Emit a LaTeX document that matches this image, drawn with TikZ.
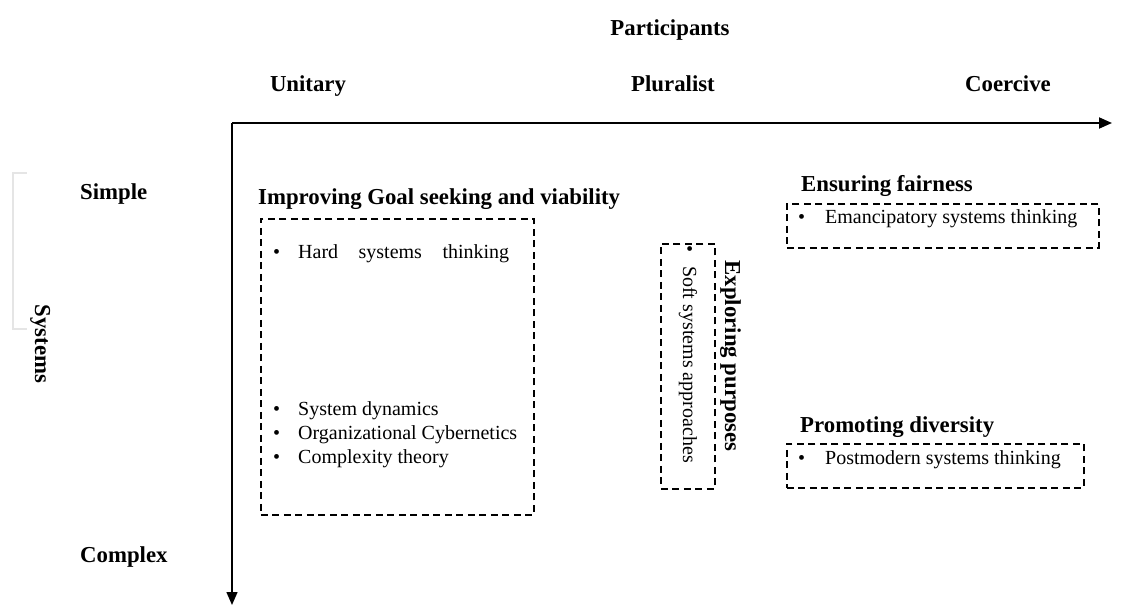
\documentclass[tikz,border=0pt]{standalone}
\usepackage{fontspec}
\setmainfont{Liberation Serif}
\usetikzlibrary{arrows.meta}
\begin{document}
\begin{tikzpicture}[x=1pt,y=-1pt,
  lbl/.style={font=\fontsize{22.8}{26}\selectfont\bfseries, inner sep=0pt},
  itm/.style={font=\fontsize{20}{24}\selectfont, inner sep=0pt},
  dbox/.style={draw, dash pattern=on 7pt off 4.5pt, line width=1.8pt, inner sep=0pt, anchor=north west},
  axis/.style={line width=1.8pt, -{Triangle[length=13pt,width=11pt]}},
  faint/.style={draw=black!10, line width=1.5pt}]
\useasboundingbox (0,0) rectangle (1133,605);
% faint bracket
\coordinate (fa) at (27,173); \coordinate (fb) at (13,173);
\coordinate (fc) at (13,329); \coordinate (fd) at (27,329);
\draw[faint] (fa) -- (fb) -- (fc) -- (fd);
% header labels
\node[lbl, anchor=base] (part) at (670,35) {Participants};
\node[lbl, anchor=base] (uni) at (308,91) {Unitary};
\node[lbl, anchor=base] (plu) at (673,91) {Pluralist};
\node[lbl, anchor=base] (coe) at (1008,91) {Coercive};
% axes
\coordinate (O) at (232,123);
\coordinate (xe) at (1112,123);
\coordinate (ye) at (232,605);
\draw[axis] (O) -- (xe);
\draw[axis, line width=1.4pt] (O) -- (ye);
% left labels
\node[lbl, anchor=base west] (simple) at (80,199) {Simple};
\node[lbl, anchor=base west] (complex) at (80,562) {Complex};
\node[lbl, anchor=base, rotate=-90] (systems) at (35,344) {Systems};
% box 1
\node[lbl, anchor=base west] (t1) at (258,204) {Improving Goal seeking and viability};
\node[dbox, minimum width=273pt, minimum height=296pt] (b1) at (260,218) {};
\node[itm, anchor=base west] (bu1) at (273,258) {•};
\node[itm, anchor=base west] (i1) at (298,258) {\makebox[211pt][s]{Hard systems thinking}};
\node[itm, anchor=base west] (bu2) at (273,415) {•};
\node[itm, anchor=base west] (i2) at (298,415) {System dynamics};
\node[itm, anchor=base west] (bu3) at (273,439) {•};
\node[itm, anchor=base west] (i3) at (298,439) {Organizational Cybernetics};
\node[itm, anchor=base west] (bu4) at (273,463) {•};
\node[itm, anchor=base west] (i4) at (298,463) {Complexity theory};
% box 2
\node[dbox, minimum width=54pt, minimum height=245pt] (b2) at (660,243) {};
\node[itm, anchor=base west, rotate=-90] (bu5) at (683,245) {•};
\node[itm, anchor=base west, rotate=-90] (i5) at (683,266) {Soft systems approaches};
\node[lbl, anchor=base, rotate=-90] (t2) at (725,356) {Exploring purposes};
% box 3
\node[lbl, anchor=base west] (t3) at (801,191) {Ensuring fairness};
\node[dbox, minimum width=312pt, minimum height=44pt] (b3) at (786,203) {};
\node[itm, anchor=base west] (bu6) at (798,223) {•};
\node[itm, anchor=base west] (i6) at (825,223) {Emancipatory systems thinking};
% box 4
\node[lbl, anchor=base west] (t4) at (800,432) {Promoting diversity};
\node[dbox, minimum width=297pt, minimum height=44pt] (b4) at (786,443) {};
\node[itm, anchor=base west] (bu7) at (798,464) {•};
\node[itm, anchor=base west] (i7) at (825,464) {Postmodern systems thinking};
\end{tikzpicture}
\end{document}
